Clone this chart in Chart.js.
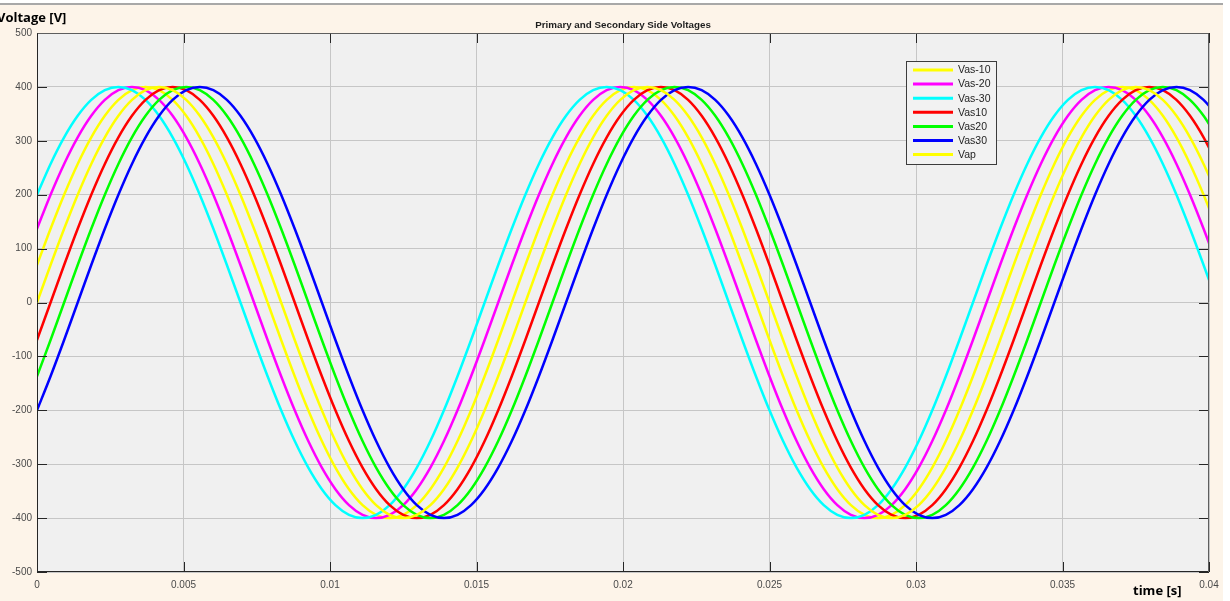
<!DOCTYPE html>
<html>
<head>
<meta charset="utf-8">
<script src="https://cdn.jsdelivr.net/npm/chart.js@4.4.1/dist/chart.umd.min.js"></script>
<style>
  html, body { margin: 0; padding: 0; background: #fff; overflow: hidden; }
</style>
</head>
<body>
<canvas id="voltChart" width="1230" height="601"></canvas>
<script>
// time samples [s], one every 10 deg of a 60 Hz wave
const times = [0, 0.000463, 0.000926, 0.001389, 0.001852, 0.002315, 0.002778, 0.003241, 0.003704, 0.004167,
  0.00463, 0.005093, 0.005556, 0.006019, 0.006481, 0.006944, 0.007407, 0.00787, 0.008333, 0.008796,
  0.009259, 0.009722, 0.010185, 0.010648, 0.011111, 0.011574, 0.012037, 0.0125, 0.012963, 0.013426,
  0.013889, 0.014352, 0.014815, 0.015278, 0.015741, 0.016204, 0.016667, 0.01713, 0.017593, 0.018056,
  0.018519, 0.018981, 0.019444, 0.019907, 0.02037, 0.020833, 0.021296, 0.021759, 0.022222, 0.022685,
  0.023148, 0.023611, 0.024074, 0.024537, 0.025, 0.025463, 0.025926, 0.026389, 0.026852, 0.027315,
  0.027778, 0.028241, 0.028704, 0.029167, 0.02963, 0.030093, 0.030556, 0.031019, 0.031481, 0.031944,
  0.032407, 0.03287, 0.033333, 0.033796, 0.034259, 0.034722, 0.035185, 0.035648, 0.036111, 0.036574,
  0.037037, 0.0375, 0.037963, 0.038426, 0.038889, 0.039352, 0.039815, 0.040278];

const vasM10 = [69.5, 136.8, 200, 257.1, 306.4, 346.4, 375.9, 393.9, 400, 393.9, 375.9, 346.4, 306.4, 257.1, 200, 136.8, 69.5, 0, -69.5, -136.8, -200, -257.1, -306.4, -346.4, -375.9, -393.9, -400, -393.9, -375.9, -346.4, -306.4, -257.1, -200, -136.8, -69.5,
  0, 69.5, 136.8, 200, 257.1, 306.4, 346.4, 375.9, 393.9, 400, 393.9, 375.9, 346.4, 306.4, 257.1, 200, 136.8, 69.5, 0, -69.5, -136.8, -200, -257.1, -306.4, -346.4, -375.9, -393.9, -400, -393.9, -375.9, -346.4, -306.4, -257.1, -200, -136.8, -69.5,
  0, 69.5, 136.8, 200, 257.1, 306.4, 346.4, 375.9, 393.9, 400, 393.9, 375.9, 346.4, 306.4, 257.1, 200, 136.8];

const vasM20 = [136.8, 200, 257.1, 306.4, 346.4, 375.9, 393.9, 400, 393.9, 375.9, 346.4, 306.4, 257.1, 200, 136.8, 69.5, 0, -69.5, -136.8, -200, -257.1, -306.4, -346.4, -375.9, -393.9, -400, -393.9, -375.9, -346.4, -306.4, -257.1, -200, -136.8, -69.5,
  0, 69.5, 136.8, 200, 257.1, 306.4, 346.4, 375.9, 393.9, 400, 393.9, 375.9, 346.4, 306.4, 257.1, 200, 136.8, 69.5, 0, -69.5, -136.8, -200, -257.1, -306.4, -346.4, -375.9, -393.9, -400, -393.9, -375.9, -346.4, -306.4, -257.1, -200, -136.8, -69.5,
  0, 69.5, 136.8, 200, 257.1, 306.4, 346.4, 375.9, 393.9, 400, 393.9, 375.9, 346.4, 306.4, 257.1, 200, 136.8, 69.5];

const vasM30 = [200, 257.1, 306.4, 346.4, 375.9, 393.9, 400, 393.9, 375.9, 346.4, 306.4, 257.1, 200, 136.8, 69.5, 0, -69.5, -136.8, -200, -257.1, -306.4, -346.4, -375.9, -393.9, -400, -393.9, -375.9, -346.4, -306.4, -257.1, -200, -136.8, -69.5,
  0, 69.5, 136.8, 200, 257.1, 306.4, 346.4, 375.9, 393.9, 400, 393.9, 375.9, 346.4, 306.4, 257.1, 200, 136.8, 69.5, 0, -69.5, -136.8, -200, -257.1, -306.4, -346.4, -375.9, -393.9, -400, -393.9, -375.9, -346.4, -306.4, -257.1, -200, -136.8, -69.5,
  0, 69.5, 136.8, 200, 257.1, 306.4, 346.4, 375.9, 393.9, 400, 393.9, 375.9, 346.4, 306.4, 257.1, 200, 136.8, 69.5, 0];

const vas10 = [-69.5,
  0, 69.5, 136.8, 200, 257.1, 306.4, 346.4, 375.9, 393.9, 400, 393.9, 375.9, 346.4, 306.4, 257.1, 200, 136.8, 69.5, 0, -69.5, -136.8, -200, -257.1, -306.4, -346.4, -375.9, -393.9, -400, -393.9, -375.9, -346.4, -306.4, -257.1, -200, -136.8, -69.5,
  0, 69.5, 136.8, 200, 257.1, 306.4, 346.4, 375.9, 393.9, 400, 393.9, 375.9, 346.4, 306.4, 257.1, 200, 136.8, 69.5, 0, -69.5, -136.8, -200, -257.1, -306.4, -346.4, -375.9, -393.9, -400, -393.9, -375.9, -346.4, -306.4, -257.1, -200, -136.8, -69.5,
  0, 69.5, 136.8, 200, 257.1, 306.4, 346.4, 375.9, 393.9, 400, 393.9, 375.9, 346.4, 306.4, 257.1];

const vas20 = [-136.8, -69.5,
  0, 69.5, 136.8, 200, 257.1, 306.4, 346.4, 375.9, 393.9, 400, 393.9, 375.9, 346.4, 306.4, 257.1, 200, 136.8, 69.5, 0, -69.5, -136.8, -200, -257.1, -306.4, -346.4, -375.9, -393.9, -400, -393.9, -375.9, -346.4, -306.4, -257.1, -200, -136.8, -69.5,
  0, 69.5, 136.8, 200, 257.1, 306.4, 346.4, 375.9, 393.9, 400, 393.9, 375.9, 346.4, 306.4, 257.1, 200, 136.8, 69.5, 0, -69.5, -136.8, -200, -257.1, -306.4, -346.4, -375.9, -393.9, -400, -393.9, -375.9, -346.4, -306.4, -257.1, -200, -136.8, -69.5,
  0, 69.5, 136.8, 200, 257.1, 306.4, 346.4, 375.9, 393.9, 400, 393.9, 375.9, 346.4, 306.4];

const vas30 = [-200, -136.8, -69.5,
  0, 69.5, 136.8, 200, 257.1, 306.4, 346.4, 375.9, 393.9, 400, 393.9, 375.9, 346.4, 306.4, 257.1, 200, 136.8, 69.5, 0, -69.5, -136.8, -200, -257.1, -306.4, -346.4, -375.9, -393.9, -400, -393.9, -375.9, -346.4, -306.4, -257.1, -200, -136.8, -69.5,
  0, 69.5, 136.8, 200, 257.1, 306.4, 346.4, 375.9, 393.9, 400, 393.9, 375.9, 346.4, 306.4, 257.1, 200, 136.8, 69.5, 0, -69.5, -136.8, -200, -257.1, -306.4, -346.4, -375.9, -393.9, -400, -393.9, -375.9, -346.4, -306.4, -257.1, -200, -136.8, -69.5,
  0, 69.5, 136.8, 200, 257.1, 306.4, 346.4, 375.9, 393.9, 400, 393.9, 375.9, 346.4];

const vap = [0, 69.5, 136.8, 200, 257.1, 306.4, 346.4, 375.9, 393.9, 400, 393.9, 375.9, 346.4, 306.4, 257.1, 200, 136.8, 69.5, 0, -69.5, -136.8, -200, -257.1, -306.4, -346.4, -375.9, -393.9, -400, -393.9, -375.9, -346.4, -306.4, -257.1, -200, -136.8, -69.5,
  0, 69.5, 136.8, 200, 257.1, 306.4, 346.4, 375.9, 393.9, 400, 393.9, 375.9, 346.4, 306.4, 257.1, 200, 136.8, 69.5, 0, -69.5, -136.8, -200, -257.1, -306.4, -346.4, -375.9, -393.9, -400, -393.9, -375.9, -346.4, -306.4, -257.1, -200, -136.8, -69.5,
  0, 69.5, 136.8, 200, 257.1, 306.4, 346.4, 375.9, 393.9, 400, 393.9, 375.9, 346.4, 306.4, 257.1, 200];

const seriesNames = ['Vas-10', 'Vas-20', 'Vas-30', 'Vas10', 'Vas20', 'Vas30', 'Vap'];
const seriesValues = [vasM10, vasM20, vasM30, vas10, vas20, vas30, vap];
const seriesColors = ['#ffff00', '#ff00ff', '#00ffff', '#ff0000', '#00ff00', '#0000ff', '#ffff00'];

const xTicks = [0, 0.005, 0.01, 0.015, 0.02, 0.025, 0.03, 0.035, 0.04];
const yTicks = [-500, -400, -300, -200, -100, 0, 100, 200, 300, 400, 500];

const tickFont = { family: 'Arial', size: 10 };

// matlab-ish frame: backgrounds, inner ticks, box, legend and titles
const frame = {
  id: 'frame',
  beforeDraw(c) {
    const ctx = c.ctx, a = c.chartArea;
    ctx.save();
    ctx.fillStyle = '#ffffff';
    ctx.fillRect(0, 0, c.width, c.height);
    ctx.fillStyle = '#fdf4e9';
    ctx.fillRect(0, 5, 1223, c.height - 5);
    ctx.fillStyle = '#a8a8a8';
    ctx.fillRect(0, 3, 1223, 2);
    ctx.fillStyle = '#f0f0f0';
    ctx.fillRect(a.left, a.top, a.right - a.left, a.bottom - a.top);
    ctx.restore();
  },
  afterDatasetsDraw(c) {
    const ctx = c.ctx, a = c.chartArea;
    const xs = c.scales.x, ys = c.scales.y;
    ctx.save();
    ctx.lineWidth = 1;
    ctx.strokeStyle = '#262626';
    ctx.beginPath();
    yTicks.forEach(v => {
      const py = Math.round(ys.getPixelForValue(v)) + 0.5;
      ctx.moveTo(a.left, py); ctx.lineTo(a.left + 10, py);
      ctx.moveTo(a.right - 10, py); ctx.lineTo(a.right, py);
    });
    xTicks.forEach(v => {
      const px = Math.round(xs.getPixelForValue(v)) + 0.5;
      ctx.moveTo(px, a.bottom); ctx.lineTo(px, a.bottom - 10);
      ctx.moveTo(px, a.top); ctx.lineTo(px, a.top + 10);
    });
    ctx.stroke();

    // box
    const L = Math.round(a.left) + 0.5, R = Math.round(a.right) - 0.5;
    const T = Math.round(a.top) + 0.5, B = Math.round(a.bottom) - 0.5;
    ctx.strokeStyle = '#5e5e5e';
    ctx.beginPath();
    ctx.moveTo(L, T); ctx.lineTo(R, T); ctx.lineTo(R, B);
    ctx.stroke();
    ctx.strokeStyle = '#262626';
    ctx.beginPath();
    ctx.moveTo(L, T); ctx.lineTo(L, B); ctx.lineTo(R, B);
    ctx.stroke();

    // legend
    const lx = 906, ly = 61, lw = 90, lh = 103;
    ctx.fillStyle = '#f2f2f2';
    ctx.fillRect(lx, ly, lw, lh);
    ctx.strokeStyle = '#3c3c3c';
    ctx.strokeRect(lx + 0.5, ly + 0.5, lw, lh);
    ctx.font = '10.5px Arial';
    ctx.textBaseline = 'middle';
    ctx.textAlign = 'left';
    c.data.datasets.forEach((ds, i) => {
      const y = ly + 9 + i * 14.1;
      ctx.strokeStyle = ds.borderColor;
      ctx.lineWidth = 3;
      ctx.beginPath();
      ctx.moveTo(lx + 7, y); ctx.lineTo(lx + 47, y);
      ctx.stroke();
      ctx.fillStyle = '#1e1e1e';
      ctx.fillText(ds.label, lx + 52, y + 0.5);
    });

    // titles
    ctx.fillStyle = '#1e1e1e';
    ctx.font = 'bold 9.8px Arial';
    ctx.textAlign = 'center';
    ctx.textBaseline = 'middle';
    ctx.fillText('Primary and Secondary Side Voltages', (a.left + a.right) / 2, 25);
    ctx.fillStyle = '#000000';
    ctx.font = 'bold 13px "Open Sans"';
    ctx.textAlign = 'left';
    ctx.textBaseline = 'alphabetic';
    ctx.fillText('Voltage [V]', -3, 22);
    ctx.fillText('time [s]', 1133, 595);
    ctx.restore();
  }
};

const ctx = document.getElementById('voltChart').getContext('2d');
const chart = new Chart(ctx, {
  type: 'line',
  data: {
    datasets: seriesNames.map((name, i) => ({
      label: name,
      data: seriesValues[i].map((v, k) => ({ x: times[k], y: v })),
      borderColor: seriesColors[i],
      backgroundColor: seriesColors[i],
      borderWidth: 2.5,
      pointRadius: 0,
      tension: 0.3,
      fill: false,
      clip: 0,
      order: -i
    }))
  },
  options: {
    responsive: false,
    animation: false,
    events: [],
    layout: { padding: { top: 33, right: 21, left: 0, bottom: 0 } },
    plugins: {
      legend: { display: false },
      title: { display: false },
      tooltip: { enabled: false }
    },
    scales: {
      x: {
        type: 'linear',
        min: 0,
        max: 0.04,
        afterFit: s => { s.height = 29; },
        afterBuildTicks: s => { s.ticks = xTicks.map(v => ({ value: v })); },
        grid: { color: '#c6c6c6', lineWidth: 1, drawTicks: false },
        border: { display: false },
        ticks: {
          padding: 7, color: '#4a4a4a', font: tickFont,
          maxRotation: 0, autoSkip: false,
          callback: v => String(v)
        }
      },
      y: {
        type: 'linear',
        min: -500,
        max: 500,
        afterFit: s => { s.width = 37; },
        afterBuildTicks: s => { s.ticks = yTicks.map(v => ({ value: v })); },
        grid: { color: '#c6c6c6', lineWidth: 1, drawTicks: false },
        border: { display: false },
        ticks: {
          padding: 5, color: '#4a4a4a', font: tickFont,
          autoSkip: false,
          callback: v => String(v)
        }
      }
    }
  },
  plugins: [frame]
});
</script>
</body>
</html>
